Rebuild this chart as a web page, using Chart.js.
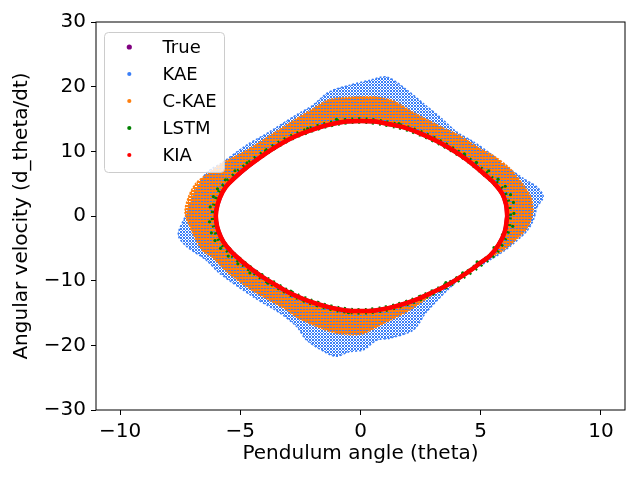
<!DOCTYPE html>
<html>
<head>
<meta charset="utf-8">
<script src="https://cdn.jsdelivr.net/npm/chart.js@4.4.1/dist/chart.umd.min.js"></script>
<style>
  html, body { margin: 0; padding: 0; background: #fff; }
  canvas { display: block; }
</style>
</head>
<body>
<canvas id="phaseChart" width="640" height="480"></canvas>
<script>
const xTicks = [-10, -5, 0, 5, 10];
const yTicks = [-30, -20, -10, 0, 10, 20, 30];
const seriesNames = ["True", "KAE", "C-KAE", "LSTM", "KIA"];

// ground truth orbit (KIA sits right on top of it)
const trueTheta = [6.1, 6.05, 5.9, 5.6, 5.2, 4.7, 4.2, 3.6, 3.0, 2.4, 1.8, 1.2, 0.6, 0.0, -0.6, -1.2, -1.8, -2.4, -3.0, -3.6, -4.2, -4.7, -5.2, -5.6, -5.85, -6.0,
  -6.0, -5.9, -5.7, -5.4, -5.0, -4.5, -4.0, -3.5, -3.0, -2.4, -1.8, -1.2, -0.6, 0.0, 0.6, 1.2, 1.8, 2.4, 3.0, 3.5, 4.0, 4.5, 5.0, 5.4, 5.75, 6.0, 6.1];
const trueOmega = [0.0, 1.8, 3.4, 4.9, 6.3, 7.9, 9.3, 10.7, 11.9, 12.9, 13.7, 14.2, 14.6, 14.7, 14.6, 14.2, 13.6, 12.8, 11.8, 10.5, 9.0, 7.6, 6.0, 4.5, 2.8, 0.8,
  -0.8, -2.4, -4.0, -5.4, -6.8, -8.3, -9.6, -10.7, -11.8, -12.8, -13.6, -14.2, -14.6, -14.7, -14.6, -14.2, -13.6, -12.8, -11.8, -10.9, -9.8, -8.6, -7.2, -6.1, -4.4, -2.4, 0.0];

// KAE: outer edge of the blue band
const kaeTheta = [7.33, 7.6, 7.33, 6.77, 6.08, 5.38, 4.69, 4.0, 3.3, 2.61, 1.92, 1.09, 0.4, -0.47, -1.3, -1.99, -2.68, -3.79, -4.76, -5.73, -6.42, -6.98, -7.26,
  -7.58, -7.23, -6.42, -5.84, -4.46, -3.35, -2.65, -2.24, -1.4, -0.99, -0.47, 0.12, 0.67, 1.23, 2.2, 2.75, 4.14, 5.93, 6.9, 7.2, 7.33];
const kaeOmega = [1.4, 3.0, 4.5, 5.8, 7.6, 9.7, 11.5, 13.0, 15.3, 17.4, 19.5, 21.5, 21.0, 20.2, 19.2, 17.1, 15.6, 13.0, 10.9, 8.3, 6.6, 3.0, 0.15,
  -2.9, -4.7, -6.8, -8.9, -12.5, -15.0, -17.1, -19.2, -21.2, -21.7, -21.0, -20.7, -19.2, -18.9, -17.6, -14.8, -9.7, -5.5, -2.4, -0.5, 1.4];

// C-KAE: outer edge of the orange band
const ckaeTheta = [7.18, 7.1, 6.77, 6.2, 5.5, 4.97, 4.14, 3.4, 2.2, 1.37, 0.6, 0.0, -0.7, -1.3, -1.97, -2.68, -3.7, -4.76, -5.73, -6.4, -6.84, -7.15, -7.3,
  -7.15, -6.6, -6.15, -5.56, -4.46, -3.07, -2.68, -1.68, -1.0, 0.0, 0.81, 2.06, 3.2, 4.14, 5.2, 5.93, 6.6, 6.9, 7.1, 7.18];
const ckaeOmega = [0.9, 2.8, 4.8, 7.4, 9.4, 10.4, 12.4, 13.7, 16.0, 17.8, 18.4, 18.4, 18.3, 18.0, 16.6, 15.0, 12.6, 10.1, 8.2, 6.4, 5.1, 3.0, 0.6,
  -1.2, -5.2, -6.4, -8.6, -11.6, -14.5, -15.6, -17.3, -18.1, -18.3, -16.9, -14.5, -11.6, -9.4, -6.8, -5.3, -3.2, -2.0, -0.5, 0.9];

// LSTM: follows the orbit with a bit of spread
const lstmTheta = [6.17, 6.12, 5.97, 5.66, 5.26, 4.75, 4.24, 3.63, 3.02, 2.41, 1.8, 1.2, 0.6, 0.0, -0.6, -1.21, -1.82, -2.43, -3.04, -3.65, -4.26, -4.77, -5.28, -5.68, -5.93, -6.08,
  -6.08, -5.98, -5.77, -5.46, -5.05, -4.54, -4.02, -3.51, -3.0, -2.4, -1.8, -1.2, -0.6, 0.0, 0.6, 1.2, 1.8, 2.41, 3.02, 3.52, 4.03, 4.54, 5.05, 5.46, 5.82, 6.08, 6.17];
const lstmOmega = [0.0, 1.8, 3.4, 4.9, 6.3, 7.9, 9.3, 10.7, 11.9, 12.9, 13.7, 14.2, 14.6, 14.75, 14.65, 14.25, 13.65, 12.85, 11.85, 10.55, 9.05, 7.65, 6.05, 4.55, 2.85, 0.8,
  -0.8, -2.4, -4.0, -5.4, -6.8, -8.3, -9.6, -10.7, -11.8, -12.8, -13.6, -14.2, -14.6, -14.75, -14.6, -14.2, -13.6, -12.8, -11.8, -10.9, -9.8, -8.6, -7.2, -6.1, -4.4, -2.4, 0.0];
const lstmDotTheta = [-6.25, -6.28, -6.2, -6.05, -5.82, -5.5, -5.1, -4.6, -3.85, -6.12, -5.95, -5.62, -5.22, -4.72, -3.95, -4.1, -2.9, 6.38, 6.33, 6.36, 6.24, 6.02, 5.72, 5.33, 4.82, 4.32,
  4.85, 4.25, 3.55, 5.55, 5.9, 2.5, -1.0, 1.6, -2.2, 2.9, -0.5];
const lstmDotOmega = [1.4, -0.9, -2.6, -3.8, -5.0, -6.2, -7.4, -8.8, -10.4, 3.0, 4.2, 5.6, 7.0, 8.2, 10.1, -9.1, -11.6, 0.4, -1.6, 2.1, 3.3, 4.6, 5.7, 7.0, 8.3, 9.6,
  -7.1, -8.8, -10.3, -4.9, -2.9, -12.4, 14.95, 14.3, 13.5, -12.0, -14.95];

const FONT = "'DejaVu Sans', sans-serif";
const PURPLE = "#800080", BLUE = "#3a7ef7", ORANGE = "#ff7f0e", GREEN = "#008000", RED = "#ff0000";

const canvas = document.getElementById("phaseChart");
const ctx = canvas.getContext("2d");

function dotPattern(size, cells) {
    const tile = document.createElement("canvas");
    tile.width = size;
    tile.height = size;
    const g = tile.getContext("2d");
    cells.forEach(([color, x, y, w, h]) => {
        g.fillStyle = color;
        g.fillRect(x, y, w, h);
    });
    return ctx.createPattern(tile, "repeat");
}

const bluePattern = dotPattern(3, [[BLUE, 0, 0, 2, 2], [BLUE, 2, 2, 1, 1]]);
const orangePattern = dotPattern(3, [[ORANGE, 0, 1, 3, 2], [ORANGE, 2, 0, 1, 1]]);

const pts = (xs, ys) => xs.map((x, i) => ({ x: x, y: ys[i] }));
const minus = (v) => (v < 0 ? "\u2212" + Math.abs(v) : String(v));

const frame = {
    id: "frame",
    afterDraw(chart) {
        const a = chart.chartArea;
        const c = chart.ctx;
        c.save();
        c.strokeStyle = "#000";
        c.lineWidth = 1;
        c.strokeRect(a.left, a.top, a.right - a.left, a.bottom - a.top);

        // legend box like matplotlib's
        const bx = a.left + 8.5, by = a.top + 10.5, bw = 120, bh = 140;
        c.beginPath();
        c.roundRect(bx, by, bw, bh, 4);
        c.fillStyle = "rgba(255,255,255,0.8)";
        c.fill();
        c.strokeStyle = "#cccccc";
        c.stroke();
        c.font = "18px " + FONT;
        c.textBaseline = "middle";
        c.textAlign = "left";
        const items = chart.data.datasets.filter((d) => seriesNames.includes(d.label));
        items.forEach((d, i) => {
            const y = a.top + 25 + 27 * i;
            c.beginPath();
            c.arc(a.left + 33.3, y, d.label === "True" ? 2.6 : 2.1, 0, Math.PI * 2);
            c.fillStyle = d.legendColor;
            c.fill();
            c.fillStyle = "#000";
            c.fillText(d.label, a.left + 66.5, y + 1);
        });
        c.restore();
    }
};

new Chart(ctx, {
    type: "scatter",
    data: {
        datasets: [
            {
                label: "True", legendColor: PURPLE, data: pts(trueTheta, trueOmega),
                showLine: true, borderColor: PURPLE, borderWidth: 4, pointRadius: 0, tension: 0.4, order: 4
            },
            {
                label: "KAE", legendColor: BLUE, data: pts(kaeTheta, kaeOmega),
                showLine: true, borderColor: BLUE, borderWidth: 1.5, borderDash: [2, 2], backgroundColor: bluePattern, fill: "shape",
                pointRadius: 0, tension: 0.3, order: 9
            },
            {
                label: "C-KAE", legendColor: ORANGE, data: pts(ckaeTheta, ckaeOmega),
                showLine: true, borderColor: ORANGE, borderWidth: 1.5, borderDash: [2, 1.5], backgroundColor: orangePattern, fill: "shape",
                pointRadius: 0, tension: 0.3, order: 8
            },
            {
                label: "LSTM", legendColor: GREEN, data: pts(lstmTheta, lstmOmega),
                showLine: true, borderColor: GREEN, borderWidth: 6.5, borderDash: [2, 5], pointRadius: 0, tension: 0.4, order: 3
            },
            {
                label: "KIA", legendColor: RED, data: pts(trueTheta, trueOmega),
                showLine: true, borderColor: RED, borderWidth: 4.5, pointRadius: 0, tension: 0.4, order: 0
            },
            {
                // white inside of the orbit
                label: "", data: pts(trueTheta, trueOmega),
                showLine: true, borderColor: "rgba(0,0,0,0)", backgroundColor: "#fff", fill: "shape",
                pointRadius: 0, tension: 0.4, order: 7
            },
            {
                label: "", data: pts(lstmDotTheta, lstmDotOmega),
                pointRadius: 1.6, pointBackgroundColor: GREEN, pointBorderWidth: 0, order: 2
            }
        ]
    },
    options: {
        responsive: false,
        animation: false,
        events: [],
        devicePixelRatio: 1,
        layout: { padding: { left: 10, right: 15, top: 22, bottom: 14 } },
        plugins: { legend: { display: false }, tooltip: { enabled: false } },
        scales: {
            x: {
                type: "linear", min: -11, max: 11,
                afterBuildTicks: (s) => { s.ticks = xTicks.map((v) => ({ value: v })); },
                afterFit: (s) => { s.height = 56; },
                ticks: { font: { size: 20, family: FONT }, color: "#000", padding: 5, callback: minus },
                grid: { drawOnChartArea: false, drawTicks: true, tickLength: 5, color: "#000" },
                border: { display: false },
                title: { display: true, text: "Pendulum angle (theta)", font: { size: 20, family: FONT }, color: "#000", padding: 0 }
            },
            y: {
                type: "linear", min: -30, max: 30,
                afterBuildTicks: (s) => { s.ticks = yTicks.map((v) => ({ value: v })); },
                afterFit: (s) => { s.width = 86; },
                ticks: { font: { size: 20, family: FONT }, color: "#000", padding: 5, callback: minus },
                grid: { drawOnChartArea: false, drawTicks: true, tickLength: 5, color: "#000" },
                border: { display: false },
                title: { display: true, text: "Angular velocity (d_theta/dt)", font: { size: 20, family: FONT }, color: "#000", padding: 0 }
            }
        }
    },
    plugins: [frame]
});
</script>
</body>
</html>
